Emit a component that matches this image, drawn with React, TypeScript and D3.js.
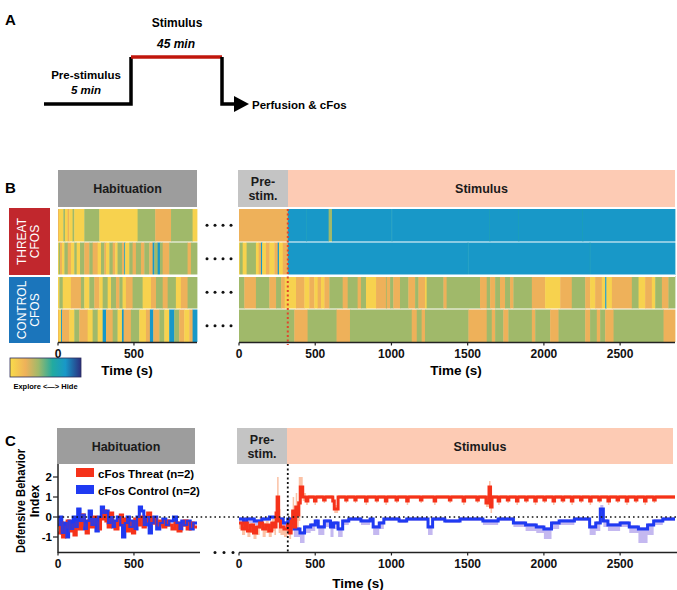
import React from "react";
import * as d3 from "d3";

// ---------- DATA ----------
const STATE_VALUES: Record<string, number> = { Y: 0.05, O: 0.22, G: 0.4, b: 0.72, B: 0.78 };
const colorStops = [0, 0.22, 0.4, 0.6, 0.78, 1];
const colorRange = ["#f9dc4a", "#eeb15a", "#a0b96a", "#22aaa0", "#1898c8", "#2b2f7e"];

const HAB_END = 915;
const TEST_END = 2860;
const STIM_ONSET = 320;

const rowIds = ["T1", "T2", "C1", "C2"];

const habT1: [number, string][] = [[0,"O"],[5,"Y"],[35,"G"],[46,"Y"],[64,"O"],[74,"Y"],[96,"G"],[107,"Y"],[173,"G"],[272,"Y"],[524,"G"],[640,"O"],[744,"G"],[886,"Y"]];
const habT2: [number, string][] = [[0,"Y"],[5,"G"],[13,"O"],[26,"Y"],[42,"G"],[64,"O"],[85,"Y"],[107,"G"],[123,"Y"],[145,"G"],[173,"O"],[206,"G"],[228,"O"],[261,"Y"],[283,"G"],[305,"O"],[316,"Y"],[338,"G"],[360,"O"],[377,"Y"],[392,"G"],[421,"O"],[436,"b"],[442,"Y"],[469,"G"],[491,"O"],[513,"G"],[546,"O"],[568,"G"],[601,"O"],[623,"B"],[634,"G"],[656,"B"],[671,"G"],[689,"O"],[732,"G"],[853,"O"],[875,"G"]];
const habC1: [number, string][] = [[0,"Y"],[9,"G"],[31,"Y"],[85,"O"],[151,"G"],[173,"Y"],[206,"G"],[239,"O"],[272,"Y"],[294,"G"],[327,"Y"],[349,"G"],[382,"O"],[404,"G"],[425,"Y"],[447,"O"],[491,"G"],[557,"Y"],[612,"O"],[645,"G"],[689,"O"],[722,"G"],[776,"Y"],[809,"O"],[853,"G"]];
const habC2: [number, string][] = [[0,"O"],[4,"Y"],[20,"B"],[26,"O"],[75,"Y"],[107,"G"],[140,"O"],[195,"Y"],[228,"G"],[261,"Y"],[294,"B"],[316,"O"],[360,"G"],[392,"Y"],[421,"B"],[432,"O"],[480,"G"],[535,"Y"],[579,"O"],[605,"B"],[627,"O"],[667,"G"],[700,"Y"],[732,"B"],[765,"G"],[798,"O"],[831,"Y"],[864,"O"],[886,"B"]];

const stimT1: [number, string][] = [[0,"O"],[320,"B"],[440,"b"],[444,"B"],[588,"G"],[610,"B"],[1000,"b"],[1004,"B"],[1640,"b"],[1646,"B"],[1830,"b"],[1836,"B"],[2250,"b"],[2256,"B"]];
const stimT2: [number, string][] = [[0,"Y"],[5,"G"],[24,"Y"],[50,"G"],[111,"Y"],[129,"O"],[144,"B"],[152,"Y"],[177,"O"],[200,"Y"],[232,"O"],[254,"B"],[262,"Y"],[287,"O"],[320,"B"],[1500,"b"],[1505,"B"],[2300,"b"],[2306,"B"]];
const stimC1: [number, string][] = [[0,"G"],[35,"O"],[111,"G"],[199,"O"],[243,"G"],[276,"O"],[300,"Y"],[374,"O"],[429,"Y"],[461,"O"],[494,"Y"],[516,"O"],[538,"Y"],[560,"O"],[593,"G"],[680,"O"],[713,"G"],[778,"O"],[800,"G"],[833,"Y"],[899,"O"],[964,"G"],[969,"O"],[991,"G"],[1012,"O"],[1056,"G"],[1111,"O"],[1155,"G"],[1177,"O"],[1220,"Y"],[1231,"G"],[1341,"O"],[1362,"G"],[1581,"O"],[1625,"G"],[1647,"O"],[1680,"G"],[1712,"O"],[1745,"G"],[1778,"O"],[1800,"G"],[1921,"O"],[2008,"Y"],[2107,"O"],[2183,"G"],[2271,"O"],[2303,"Y"],[2336,"O"],[2380,"Y"],[2402,"B"],[2410,"Y"],[2446,"O"],[2577,"G"],[2621,"Y"],[2664,"O"],[2708,"Y"],[2730,"G"],[2774,"O"],[2817,"G"]];
const stimC2: [number, string][] = [[0,"G"],[363,"O"],[450,"G"],[640,"O"],[728,"G"],[1133,"O"],[1166,"G"],[1198,"O"],[1220,"G"],[1505,"O"],[1625,"G"],[1658,"O"],[1680,"G"],[1734,"O"],[1767,"G"],[1921,"O"],[1943,"G"],[2041,"O"],[2096,"G"],[2271,"O"],[2303,"G"],[2347,"O"],[2369,"G"],[2402,"O"],[2457,"G"],[2785,"O"]];

const habRows = [habT1, habT2, habC1, habC2];
const stimRows = [stimT1, stimT2, stimC1, stimC2];

// Defensive behavior index: [t, value]
const threatHab: [number, number][] = [[0,-0.8],[15,-0.3],[30,-1.0],[45,-0.5],[60,-0.2],[75,-0.7],[90,-0.4],[105,-0.9],[120,-0.3],[140,-0.6],[155,0.1],[170,-0.4],[185,-0.8],[200,-0.2],[215,-0.5],[235,0.0],[250,-0.3],[265,-0.6],[280,-0.1],[300,0.3],[315,-0.2],[330,-0.5],[345,0.2],[360,-0.3],[375,-0.6],[395,-0.2],[410,0.1],[425,-0.4],[440,-0.1],[455,-0.7],[470,-0.3],[490,-0.8],[505,-0.1],[520,-0.4],[540,0.0],[560,-0.5],[575,-0.2],[590,0.2],[610,-0.3],[630,-0.1],[650,-0.4],[670,-0.2],[690,-0.5],[710,-0.2],[730,-0.4],[750,-0.6],[770,-0.3],[790,-0.7],[810,-0.4],[830,-0.2],[850,-0.6],[870,-0.3],[890,-0.5],[915,-0.5]];
const controlHab: [number, number][] = [[0,-0.4],[12,0.0],[25,-0.8],[40,-0.3],[55,-1.0],[70,-0.2],[85,-0.6],[100,0.0],[115,-0.5],[130,0.4],[145,-0.2],[160,0.1],[175,-0.6],[190,-0.2],[205,0.3],[220,-0.4],[235,-0.1],[250,-0.7],[265,0.0],[285,0.5],[300,0.2],[315,0.3],[330,-0.3],[345,0.0],[360,-0.5],[375,-0.2],[390,0.0],[410,-0.4],[425,-1.0],[440,-0.3],[455,0.0],[470,-0.5],[490,-0.2],[505,-0.6],[520,0.0],[535,0.5],[550,0.3],[565,-0.4],[580,0.0],[600,-0.8],[615,-0.3],[630,0.0],[650,-0.6],[670,-0.3],[690,-0.1],[710,-0.4],[730,-0.2],[760,0.0],[780,-0.3],[800,-0.6],[815,-0.2],[830,-0.4],[850,-0.2],[870,-0.6],[890,-0.3],[915,-0.3]];

// [t, mean, low, high]
const threatStim: [number, number, number, number][] = [[0,-0.3,-0.6,0],[20,-0.6,-0.9,-0.3],[40,-0.3,-0.6,0],[55,-0.7,-1.0,-0.4],[75,-0.4,-0.8,-0.1],[95,-0.8,-1.1,-0.5],[115,-0.5,-0.9,-0.2],[135,-0.3,-0.6,0],[155,-0.6,-1.0,-0.3],[175,-0.4,-0.8,-0.1],[195,-0.7,-1.0,-0.4],[215,-0.3,-0.7,0],[232,-0.5,-0.9,-0.2],[243,0.2,-0.3,0.8],[250,1.0,0,2.0],[260,-0.2,-0.8,0.4],[272,-0.5,-0.9,-0.2],[295,-0.6,-1.0,-0.3],[318,-0.4,-0.8,-0.1],[330,-0.8,-1.1,-0.5],[342,-0.2,-0.7,0.3],[352,0.3,-0.4,1.0],[362,-0.5,-1.0,0],[372,0.5,-0.2,1.2],[382,0.1,-0.5,0.8],[392,0.7,-0.2,2.0],[402,1.5,1.0,2.0],[418,1.0,0.8,1.2],[440,0.8,0.6,1.0],[452,1.0,0.9,1.1],[495,0.8,0.6,1.0],[505,1.0,0.9,1.1],[555,0.85,0.7,1.0],[565,1.0,0.9,1.1],[615,0.8,0.6,1.0],[625,0.4,0.2,0.6],[650,1.0,0.9,1.1],[700,0.85,0.7,1.0],[708,1.0,0.9,1.1],[760,0.85,0.7,1.0],[768,1.0,0.9,1.1],[830,0.8,0.6,1.0],[840,1.0,0.9,1.1],[900,0.85,0.7,1.0],[908,1.0,0.9,1.1],[960,0.8,0.6,1.0],[970,1.0,0.9,1.1],[1030,0.85,0.7,1.0],[1040,1.0,0.9,1.1],[1100,0.8,0.6,1.0],[1110,1.0,0.9,1.1],[1190,0.85,0.7,1.0],[1200,1.0,0.9,1.1],[1280,0.8,0.6,1.0],[1290,1.0,0.9,1.1],[1380,0.85,0.7,1.0],[1390,1.0,0.9,1.1],[1470,0.8,0.6,1.0],[1480,1.0,0.9,1.1],[1560,0.85,0.7,1.0],[1570,1.0,0.9,1.1],[1620,0.7,0.5,1.0],[1640,1.5,1.0,1.8],[1650,0.5,0.2,0.9],[1660,1.0,0.9,1.1],[1700,0.8,0.6,1.0],[1710,1.0,0.9,1.1],[1760,0.85,0.7,1.0],[1770,1.0,0.9,1.1],[1820,0.8,0.6,1.0],[1830,1.0,0.9,1.1],[1880,0.85,0.7,1.0],[1890,1.0,0.9,1.1],[1940,0.8,0.6,1.0],[1950,1.0,0.9,1.1],[2000,0.85,0.7,1.0],[2010,1.0,0.9,1.1],[2060,0.8,0.6,1.0],[2070,1.0,0.9,1.1],[2120,0.85,0.7,1.0],[2130,1.0,0.9,1.1],[2180,0.8,0.6,1.0],[2190,1.0,0.9,1.1],[2240,0.85,0.7,1.0],[2250,1.0,0.9,1.1],[2300,0.8,0.6,1.0],[2310,1.0,0.9,1.1],[2360,0.85,0.7,1.0],[2370,1.0,0.9,1.1],[2420,0.8,0.6,1.0],[2430,1.0,0.9,1.1],[2480,0.85,0.7,1.0],[2490,1.0,0.9,1.1],[2540,0.8,0.6,1.0],[2550,1.0,0.9,1.1],[2600,0.85,0.7,1.0],[2610,1.0,0.9,1.1],[2660,0.8,0.6,1.0],[2670,1.0,0.9,1.1],[2720,0.85,0.7,1.0],[2730,1.0,0.9,1.1],[2860,1.0,0.9,1.1]];
const controlStim: [number, number, number, number][] = [[0,-0.1,-0.3,0],[30,-0.3,-0.6,-0.2],[50,-0.1,-0.3,0],[100,-0.2,-0.4,-0.1],[150,-0.1,-0.2,0],[200,0,-0.1,0.05],[250,-0.1,-0.2,0],[290,-0.3,-0.5,-0.2],[320,-0.1,-0.2,0],[340,-0.3,-0.6,-0.2],[360,-0.6,-1.0,-0.5],[400,-0.8,-1.3,-0.7],[430,-0.5,-0.8,-0.4],[470,-0.4,-0.7,-0.3],[500,-0.2,-0.4,-0.1],[520,-0.5,-0.9,-0.4],[560,-0.2,-0.5,-0.1],[600,-0.5,-1.0,-0.4],[620,-0.3,-0.6,-0.2],[650,-0.6,-1.0,-0.5],[680,-0.2,-0.4,-0.1],[720,-0.1,-0.2,0],[800,-0.2,-0.4,-0.1],[860,-0.1,-0.2,0],[880,-0.5,-0.9,-0.4],[920,-0.3,-0.6,-0.2],[950,-0.1,-0.2,0],[1050,-0.2,-0.3,-0.1],[1100,-0.1,-0.2,0],[1240,-0.5,-0.9,-0.4],[1270,-0.1,-0.2,0],[1350,-0.2,-0.3,-0.1],[1450,-0.1,-0.2,0],[1600,-0.2,-0.4,-0.1],[1700,-0.1,-0.2,0],[1800,-0.3,-0.5,-0.2],[1880,-0.4,-0.7,-0.3],[1950,-0.5,-0.8,-0.4],[2000,-0.6,-1.1,-0.5],[2050,-0.3,-0.6,-0.2],[2100,-0.2,-0.4,-0.1],[2200,-0.1,-0.2,0],[2300,-0.5,-0.9,-0.4],[2340,-0.3,-0.7,-0.2],[2370,0.4,0,0.6],[2390,-0.2,-0.5,-0.1],[2420,-0.4,-0.7,-0.3],[2500,-0.3,-0.5,-0.2],[2560,-0.5,-0.8,-0.4],[2620,-0.6,-1.3,-0.5],[2680,-0.4,-0.9,-0.3],[2720,-0.2,-0.4,-0.1],[2780,-0.1,-0.2,0],[2860,-0.1,-0.2,0]];

const habTicks = [0, 500];
const stimTicks = [0, 500, 1000, 1500, 2000, 2500];
const yTicks = [-1, 0, 1, 2];

// ---------- LAYOUT / STYLE ----------
const FONT = "'Liberation Sans', Arial, Helvetica, sans-serif";
const GRAY_DARK = "#9d9d9d";
const GRAY_LIGHT = "#c4c4c4";
const PEACH = "#fdcbb4";
const RED = "#f5321a";
const BLUE = "#1f3af2";
const RED_BAND = "#fbc2a6";
const BLUE_BAND = "#c4b8f0";

const color = d3.scaleLinear<string>().domain(colorStops).range(colorRange).interpolate(d3.interpolateRgb);

function Heat({ rows, xs, end, yb }: any) {
  return (
    <g>
      {rows.map((segs: [number, string][], ri: number) =>
        segs.map((s, i) => {
          const t1 = i < segs.length - 1 ? segs[i + 1][0] : end;
          const x0 = xs(s[0]);
          const x1 = xs(t1);
          return (
            <rect key={ri + "-" + i} x={x0} y={yb(rowIds[ri])} width={Math.max(0.6, x1 - x0 + 0.4)} height={yb.bandwidth()} fill={color(STATE_VALUES[s[1]])} />
          );
        })
      )}
    </g>
  );
}

function Header({ x0, x1, y0, y1, fill, lines }: any) {
  const cx = (x0 + x1) / 2;
  const cy = (y0 + y1) / 2;
  return (
    <g>
      <rect x={x0} y={y0} width={x1 - x0} height={y1 - y0} fill={fill} />
      {lines.map((l: string, i: number) => (
        <text key={i} x={cx} y={cy + 4.5 + (i - (lines.length - 1) / 2) * 14} textAnchor="middle" fontSize={12.5} fontWeight="bold" fill="#1a1a1a">{l}</text>
      ))}
    </g>
  );
}

function XAxis({ xs, ticks, y, x0, x1 }: any) {
  return (
    <g>
      <line x1={x0} x2={x1} y1={y} y2={y} stroke="#222" strokeWidth={1.5} />
      {ticks.map((t: number) => (
        <g key={t}>
          <line x1={xs(t)} x2={xs(t)} y1={y} y2={y + 3} stroke="#222" strokeWidth={1.2} />
          <text x={xs(t)} y={y + 15} textAnchor="middle" fontSize={12} fontWeight="bold" fill="#111">{t}</text>
        </g>
      ))}
    </g>
  );
}

export default function App() {
  const xHab = d3.scaleLinear().domain([0, HAB_END]).range([58, 197]);
  const xStim = d3.scaleLinear().domain([0, TEST_END]).range([239, 675]);
  const yb = d3.scaleBand<string>().domain(rowIds).range([209, 342]).paddingInner(0.03);

  const yC = d3.scaleLinear().domain([-1.8, 2.65]).range([553, 464]);

  const line2 = d3.line<[number, number]>().curve(d3.curveStepAfter);
  const habLine = (data: [number, number][]) => line2(data.map((d) => [xHab(d[0]), yC(d[1])]) as any) || "";
  const stimLine = (data: [number, number, number, number][]) => line2(data.map((d) => [xStim(d[0]), yC(d[1])]) as any) || "";
  const band = (data: [number, number, number, number][]) =>
    d3.area<[number, number, number, number]>()
      .curve(d3.curveStepAfter)
      .x((d) => xStim(d[0]))
      .y0((d) => yC(d[2]))
      .y1((d) => yC(d[3]))(data) || "";

  const dotsX = [207, 215, 223, 231];

  return (
    <svg width={677} height={590} style={{ position: "absolute", left: 0, top: 0, background: "#fff" }} fontFamily={FONT}>
      <defs>
        <linearGradient id="cbar" x1="0" x2="1" y1="0" y2="0">
          {colorStops.map((s, i) => (
            <stop key={i} offset={s} stopColor={colorRange[i]} />
          ))}
        </linearGradient>
      </defs>

      {/* ---------- Panel A ---------- */}
      <text x={5} y={25} fontSize={15} fontWeight="bold">A</text>
      <polyline points="44,104 131,104 131,57" fill="none" stroke="#000" strokeWidth={3.5} />
      <line x1={131} x2={222} y1={57} y2={57} stroke="#c0160c" strokeWidth={3.5} />
      <polyline points="222,57 222,104 236,104" fill="none" stroke="#000" strokeWidth={3.5} />
      <path d="M234,96 L249,104 L234,112 z" fill="#000" />
      <text x={177} y={27} textAnchor="middle" fontSize={12} fontWeight="bold">Stimulus</text>
      <text x={176} y={48} textAnchor="middle" fontSize={12} fontWeight="bold" fontStyle="italic">45 min</text>
      <text x={86} y={79} textAnchor="middle" fontSize={11.5} fontWeight="bold">Pre-stimulus</text>
      <text x={86} y={94} textAnchor="middle" fontSize={11.5} fontWeight="bold" fontStyle="italic">5 min</text>
      <text x={252} y={109} fontSize={11.5} fontWeight="bold">Perfusion &amp; cFos</text>

      {/* ---------- Panel B ---------- */}
      <text x={5} y={193} fontSize={15} fontWeight="bold">B</text>
      <Header x0={58} x1={197} y0={170} y1={207} fill={GRAY_DARK} lines={["Habituation"]} />
      <Header x0={238} x1={288} y0={170} y1={207} fill={GRAY_LIGHT} lines={["Pre-", "stim."]} />
      <Header x0={288} x1={675} y0={170} y1={207} fill={PEACH} lines={["Stimulus"]} />

      <rect x={9} y={208} width={41} height={67} fill="#c1272d" />
      <rect x={9} y={277} width={41} height={66} fill="#1b75bb" />
      <text transform="translate(26,241.5) rotate(-90)" textAnchor="middle" fontSize={12} fill="#fff">THREAT</text>
      <text transform="translate(39,241.5) rotate(-90)" textAnchor="middle" fontSize={12} fill="#fff">CFOS</text>
      <text transform="translate(26,310) rotate(-90)" textAnchor="middle" fontSize={12} fill="#fff">CONTROL</text>
      <text transform="translate(39,310) rotate(-90)" textAnchor="middle" fontSize={12} fill="#fff">CFOS</text>

      <Heat rows={habRows} xs={xHab} end={HAB_END} yb={yb} />
      <Heat rows={stimRows} xs={xStim} end={TEST_END} yb={yb} />
      <rect x={58} y={274.5} width={617} height={2.5} fill="#fff" />

      {rowIds.map((r) => (
        <g key={r}>
          {dotsX.map((dx) => (
            <circle key={dx} cx={dx} cy={(yb(r) as number) + yb.bandwidth() / 2} r={1.5} fill="#111" />
          ))}
        </g>
      ))}

      <line x1={xStim(STIM_ONSET)} x2={xStim(STIM_ONSET)} y1={209} y2={345} stroke="#e0452b" strokeWidth={2} strokeDasharray="2,2.5" />

      <XAxis xs={xHab} ticks={habTicks} y={342.5} x0={58} x1={197} />
      <XAxis xs={xStim} ticks={stimTicks} y={342.5} x0={239} x1={675} />
      <text x={127} y={375} textAnchor="middle" fontSize={13.5} fontWeight="bold">Time (s)</text>
      <text x={456} y={375} textAnchor="middle" fontSize={13.5} fontWeight="bold">Time (s)</text>

      <rect x={10} y={358} width={71} height={19} fill="url(#cbar)" stroke="#2b2b5a" strokeWidth={0.8} />
      <text x={45.5} y={389} textAnchor="middle" fontSize={7.5} fontWeight="bold">Explore &lt;—&gt; Hide</text>

      {/* ---------- Panel C ---------- */}
      <text x={5} y={446} fontSize={15} fontWeight="bold">C</text>
      <Header x0={57} x1={195} y0={428} y1={464} fill={GRAY_DARK} lines={["Habituation"]} />
      <Header x0={237} x1={287} y0={428} y1={464} fill={GRAY_LIGHT} lines={["Pre-", "stim."]} />
      <Header x0={287} x1={673} y0={428} y1={464} fill={PEACH} lines={["Stimulus"]} />

      <path d={band(threatStim)} fill={RED_BAND} />
      <path d={band(controlStim)} fill={BLUE_BAND} />

      <path d={habLine(controlHab)} fill="none" stroke={BLUE} strokeWidth={3} />
      <path d={habLine(threatHab)} fill="none" stroke={RED} strokeWidth={3} />
      <path d={habLine(controlHab)} fill="none" stroke={BLUE} strokeWidth={2.2} strokeOpacity={0.9} />
      <path d={stimLine(controlStim)} fill="none" stroke={BLUE} strokeWidth={3} />
      <path d={stimLine(threatStim)} fill="none" stroke={RED} strokeWidth={3} />

      <line x1={58} x2={677} y1={yC(0)} y2={yC(0)} stroke="#111" strokeWidth={1.6} strokeDasharray="1.6,3" />
      <line x1={xStim(STIM_ONSET)} x2={xStim(STIM_ONSET)} y1={464} y2={553} stroke="#111" strokeWidth={1.8} strokeDasharray="2,2.5" />

      <line x1={58} x2={58} y1={464} y2={553} stroke="#222" strokeWidth={1.5} />
      {yTicks.map((t) => (
        <g key={t}>
          <line x1={53} x2={58} y1={yC(t)} y2={yC(t)} stroke="#222" strokeWidth={1.2} />
          <text x={52} y={yC(t) + 4} textAnchor="end" fontSize={11.5} fontWeight="bold">{t}</text>
        </g>
      ))}
      <text transform="translate(25,501) rotate(-90)" textAnchor="middle" fontSize={12.5} fontWeight="bold" textLength={104} lengthAdjust="spacingAndGlyphs">Defensive Behavior</text>
      <text transform="translate(39,501) rotate(-90)" textAnchor="middle" fontSize={12.5} fontWeight="bold">Index</text>

      <XAxis xs={xHab} ticks={habTicks} y={552.5} x0={58} x1={200} />
      <XAxis xs={xStim} ticks={stimTicks} y={552.5} x0={239} x1={677} />
      {[215, 224, 233].map((dx) => (
        <circle key={dx} cx={dx} cy={552.5} r={1.5} fill="#111" />
      ))}
      <text x={358} y={588} textAnchor="middle" fontSize={13.5} fontWeight="bold">Time (s)</text>

      <rect x={76} y={468} width={18} height={9} fill={RED} />
      <text x={98} y={478} fontSize={11.5} fontWeight="bold">cFos Threat (n=2)</text>
      <rect x={76} y={485} width={18} height={9} fill={BLUE} />
      <text x={98} y={495} fontSize={11.5} fontWeight="bold">cFos Control (n=2)</text>
    </svg>
  );
}
